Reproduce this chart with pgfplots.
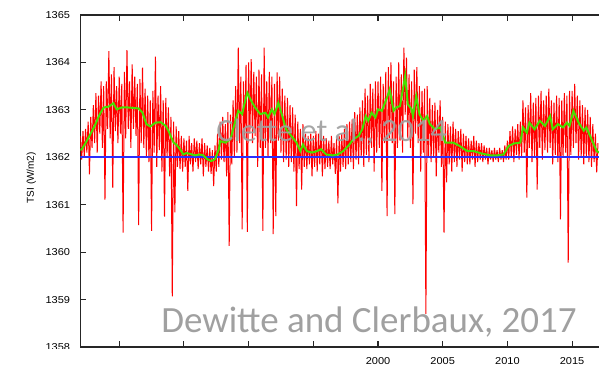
\documentclass[border=0pt]{standalone}
\usepackage{pgfplots}
\pgfplotsset{compat=1.18}
\usepackage{pgfplotstable}
\usepackage{fontspec}
\setmainfont{Liberation Sans}
\newfontfamily\calib{Carlito}
\definecolor{tsired}{RGB}{255,0,0}
\definecolor{tsigreen}{RGB}{70,225,0}
\definecolor{tsiblue}{RGB}{45,45,255}
\definecolor{annot}{RGB}{160,160,160}

% daily-like TSI values, 10 per year from 1977.0 (step 0.1 yr)
\pgfplotstableread[row sep=\\, header=false]{
1362.45\\1361.95\\1362.55\\1362.0\\1362.6\\1362.1\\1362.75\\1361.64\\1362.85\\1362.2\\
1363.1\\1362.3\\1363.35\\1362.1\\1363.3\\1362.5\\1363.6\\1362.2\\1363.5\\1361.11\\
1363.6\\1362.6\\1364.24\\1362.4\\1363.75\\1361.36\\1363.9\\1362.55\\1363.5\\1362.3\\
1363.7\\1362.5\\1363.55\\1360.41\\1363.8\\1362.4\\1364.26\\1362.6\\1363.6\\1362.2\\
1363.96\\1362.6\\1363.7\\1362.45\\1363.55\\1360.57\\1363.65\\1362.3\\1363.89\\1362.2\\
1363.45\\1362.0\\1363.3\\1361.9\\1363.2\\1360.45\\1363.4\\1362.1\\1364.12\\1361.8\\
1363.3\\1362.15\\1363.5\\1361.7\\1363.2\\1360.75\\1363.25\\1362.0\\1363.05\\1361.6\\
1362.85\\1359.07\\1362.75\\1360.84\\1362.65\\1361.8\\1362.55\\1361.75\\1362.45\\1361.7\\
1362.4\\1361.8\\1362.35\\1361.29\\1362.45\\1361.85\\1362.3\\1361.7\\1362.4\\1361.9\\
1362.35\\1361.75\\1362.3\\1361.85\\1362.4\\1361.6\\1362.3\\1361.8\\1362.25\\1361.7\\
1362.2\\1361.65\\1362.15\\1361.39\\1362.25\\1361.7\\1362.5\\1361.8\\1362.75\\1361.95\\
1362.85\\1361.9\\1362.7\\1361.6\\1362.95\\1360.13\\1362.9\\1361.85\\1363.2\\1362.0\\
1363.5\\1362.1\\1364.31\\1362.3\\1363.7\\1360.48\\1363.6\\1362.4\\1363.95\\1360.43\\
1364.0\\1362.5\\1364.07\\1362.3\\1363.8\\1362.45\\1363.7\\1361.8\\1363.85\\1362.2\\
1363.75\\1360.45\\1364.31\\1362.2\\1363.6\\1362.0\\1363.8\\1362.3\\1363.7\\1360.38\\
1363.55\\1360.76\\1363.79\\1362.35\\1363.7\\1362.1\\1363.45\\1361.9\\1363.3\\1361.95\\
1363.25\\1361.8\\1363.1\\1361.9\\1363.05\\1361.7\\1362.9\\1360.97\\1362.75\\1361.75\\
1362.6\\1361.32\\1362.7\\1361.8\\1362.5\\1361.75\\1362.45\\1361.85\\1362.5\\1361.6\\
1362.45\\1361.8\\1362.55\\1361.7\\1362.5\\1361.85\\1362.6\\1361.6\\1362.45\\1361.75\\
1362.4\\1361.8\\1362.35\\1361.75\\1362.45\\1361.85\\1362.3\\1361.65\\1362.4\\1361.03\\
1362.45\\1361.7\\1362.5\\1361.8\\1362.6\\1361.75\\1362.7\\1361.85\\1362.75\\1361.9\\
1362.8\\1361.75\\1362.95\\1361.95\\1362.9\\1361.85\\1363.05\\1362.0\\1363.2\\1361.8\\
1363.45\\1362.05\\1363.3\\1361.9\\1363.55\\1362.2\\1363.45\\1361.7\\1363.6\\1362.1\\
1363.6\\1362.2\\1363.7\\1361.29\\1363.55\\1362.3\\1363.8\\1360.76\\1363.9\\1362.4\\
1364.0\\1362.3\\1363.6\\1360.80\\1363.7\\1362.2\\1364.0\\1362.35\\1363.75\\1362.1\\
1364.31\\1362.9\\1364.1\\1362.4\\1363.75\\1362.2\\1363.6\\1361.01\\1363.85\\1362.5\\
1363.9\\1362.3\\1363.5\\1361.7\\1363.4\\1362.1\\1363.45\\1358.7\\1363.5\\1362.0\\
1363.25\\1361.9\\1363.1\\1362.0\\1363.15\\1361.6\\1363.0\\1362.1\\1363.2\\1361.8\\
1362.85\\1360.41\\1362.75\\1361.47\\1362.7\\1361.85\\1362.65\\1361.7\\1362.75\\1361.9\\
1362.6\\1361.8\\1362.55\\1361.95\\1362.6\\1361.7\\1362.5\\1361.9\\1362.45\\1361.85\\
1362.4\\1361.85\\1362.35\\1361.95\\1362.45\\1361.8\\1362.35\\1361.9\\1362.3\\1361.95\\
1362.3\\1361.9\\1362.25\\1361.95\\1362.2\\1361.85\\1362.2\\1361.95\\1362.15\\1361.9\\
1362.2\\1361.95\\1362.15\\1361.9\\1362.2\\1361.95\\1362.15\\1361.9\\1362.25\\1361.95\\
1362.35\\1361.95\\1362.55\\1362.0\\1362.65\\1361.9\\1362.6\\1362.05\\1362.7\\1361.95\\
1362.75\\1362.0\\1363.2\\1362.1\\1363.05\\1361.15\\1363.1\\1362.2\\1363.35\\1361.9\\
1363.15\\1362.0\\1363.25\\1361.32\\1363.3\\1362.2\\1363.4\\1361.95\\1363.2\\1362.15\\
1363.3\\1362.1\\1363.45\\1362.2\\1363.2\\1361.85\\1363.15\\1362.05\\1363.3\\1361.9\\
1363.25\\1360.69\\1363.2\\1362.0\\1363.35\\1362.1\\1363.3\\1359.78\\1363.4\\1362.05\\
1363.4\\1362.2\\1363.55\\1362.3\\1363.3\\1361.95\\1363.2\\1362.0\\1363.1\\1361.85\\
1363.05\\1362.0\\1363.0\\1361.9\\1362.85\\1361.8\\1362.7\\1361.9\\1362.5\\1361.68\\
1362.3\\
}\redtsi

\begin{document}
\begin{tikzpicture}
\useasboundingbox (-60.3pt,-12.75pt) rectangle (388.95pt,260.25pt);
\clip (-60.3pt,-12.75pt) rectangle (388.95pt,260.25pt);
\begin{axis}[
  scale only axis, width=397.9pt, height=249pt,
  at={(0pt,0pt)}, anchor=south west,
  xmin=1977, xmax=2018, ymin=1358, ymax=1365,
  xtick={1980,1985,1990,1995,2000,2005,2010,2015},
  xticklabels={,,,,2000,2005,2010,2015},
  ytick={1358,1359,1360,1361,1362,1363,1364,1365},
  tick align=inside, major tick length=4.5pt,
  axis line style={line width=0.9pt, black!85},
  every tick/.style={black!85, line width=0.8pt},
  tick label style={font=\fontsize{7.5}{9}\selectfont, xscale=1.1},
  /pgf/number format/assume math mode=true,
  /pgf/number format/1000 sep={},
  yticklabel style={xshift=-3.5pt},
  xticklabel style={yshift=-4pt},
  ylabel={TSI (W/m2)},
  ylabel style={font=\fontsize{7.5}{9}\selectfont, at={(axis description cs:-0.0924,0.51)}, anchor=center},
  clip=true,
]
\addplot[tsired, line width=0.75pt, line join=bevel] table[x expr=1977+0.1*\coordindex, y index=0]{\redtsi};
\addplot[tsiblue, line width=1.5pt] coordinates {(1977,1362) (2018,1362)};
\addplot[tsigreen, line width=1.5pt] coordinates {
(1977.0,1362.15) (1977.1,1362.17) (1977.4,1362.3) (1977.7,1362.45) (1978.1,1362.66)
(1978.5,1362.91) (1978.8,1363.05) (1979.2,1363.07) (1979.55,1363.14) (1979.8,1363.01)
(1980.2,1363.05) (1980.7,1363.05) (1981.1,1363.04) (1981.5,1363.03) (1981.8,1362.94)
(1982.1,1362.70) (1982.4,1362.65) (1982.8,1362.73) (1983.2,1362.74) (1983.6,1362.66)
(1983.8,1362.56) (1984.2,1362.31) (1984.4,1362.27) (1984.7,1362.17) (1984.95,1362.06)
(1985.2,1362.09) (1985.5,1362.07) (1985.85,1362.04) (1986.2,1362.06) (1986.5,1362.04)
(1986.8,1361.96) (1987.1,1361.92) (1987.4,1361.96) (1987.7,1362.17) (1987.8,1362.34)
(1988.2,1362.31) (1988.6,1362.38) (1988.8,1362.59) (1989.2,1362.98) (1989.5,1362.91)
(1989.7,1363.15) (1989.9,1363.36) (1990.2,1363.19) (1990.5,1363.05) (1990.9,1362.91)
(1991.3,1362.94) (1991.5,1362.84) (1991.8,1363.01) (1992.0,1362.91) (1992.3,1363.15)
(1992.6,1362.87) (1992.9,1362.59) (1993.3,1362.45) (1993.7,1362.31) (1994.0,1362.13)
(1994.2,1362.27) (1994.5,1362.13) (1994.9,1362.10) (1995.3,1362.13) (1995.6,1362.17)
(1996.0,1362.06) (1996.5,1362.04) (1996.9,1362.06) (1997.3,1362.13) (1997.7,1362.24)
(1998.1,1362.38) (1998.5,1362.45) (1998.8,1362.60) (1999.05,1362.87) (1999.25,1362.77)
(1999.5,1362.94) (1999.8,1362.84) (2000.0,1363.01) (2000.3,1362.98) (2000.7,1363.26)
(2000.9,1363.43) (2001.2,1362.98) (2001.4,1363.05) (2001.7,1363.08) (2002.1,1363.72)
(2002.3,1363.12) (2002.6,1363.01) (2002.7,1362.87) (2002.95,1363.29) (2003.2,1362.91)
(2003.5,1362.77) (2003.8,1362.87) (2004.0,1362.70) (2004.4,1362.59) (2004.8,1362.63)
(2005.2,1362.31) (2005.8,1362.31) (2006.3,1362.24) (2006.9,1362.13) (2007.4,1362.13)
(2008.0,1362.08) (2008.7,1362.04) (2009.2,1362.04) (2009.7,1362.06) (2010.1,1362.24)
(2010.5,1362.29) (2011.0,1362.31) (2011.2,1362.63) (2011.5,1362.52) (2011.7,1362.73)
(2012.1,1362.59) (2012.5,1362.77) (2012.9,1362.66) (2013.3,1362.87) (2013.5,1362.59)
(2013.9,1362.70) (2014.3,1362.63) (2014.6,1362.73) (2014.8,1362.66) (2015.1,1362.98)
(2015.5,1362.73) (2015.9,1362.56) (2016.1,1362.63) (2016.5,1362.38) (2016.9,1362.13)
(2017.1,1362.10)
};
\end{axis}
\node[anchor=base west, inner sep=0pt, text=annot, text opacity=0.92, font=\calib\fontsize{24.3}{29}\selectfont] at (101.7pt,153.75pt) {Clette et al., 2014};
\node[anchor=base west, inner sep=0pt, text=annot, font=\calib\fontsize{27.75}{33}\selectfont] at (60.45pt,11.25pt) {Dewitte and Clerbaux, 2017};
\fill[white] (-60.3pt,-1.6pt) rectangle (198.5pt,-12.75pt);
\end{tikzpicture}
\end{document}
